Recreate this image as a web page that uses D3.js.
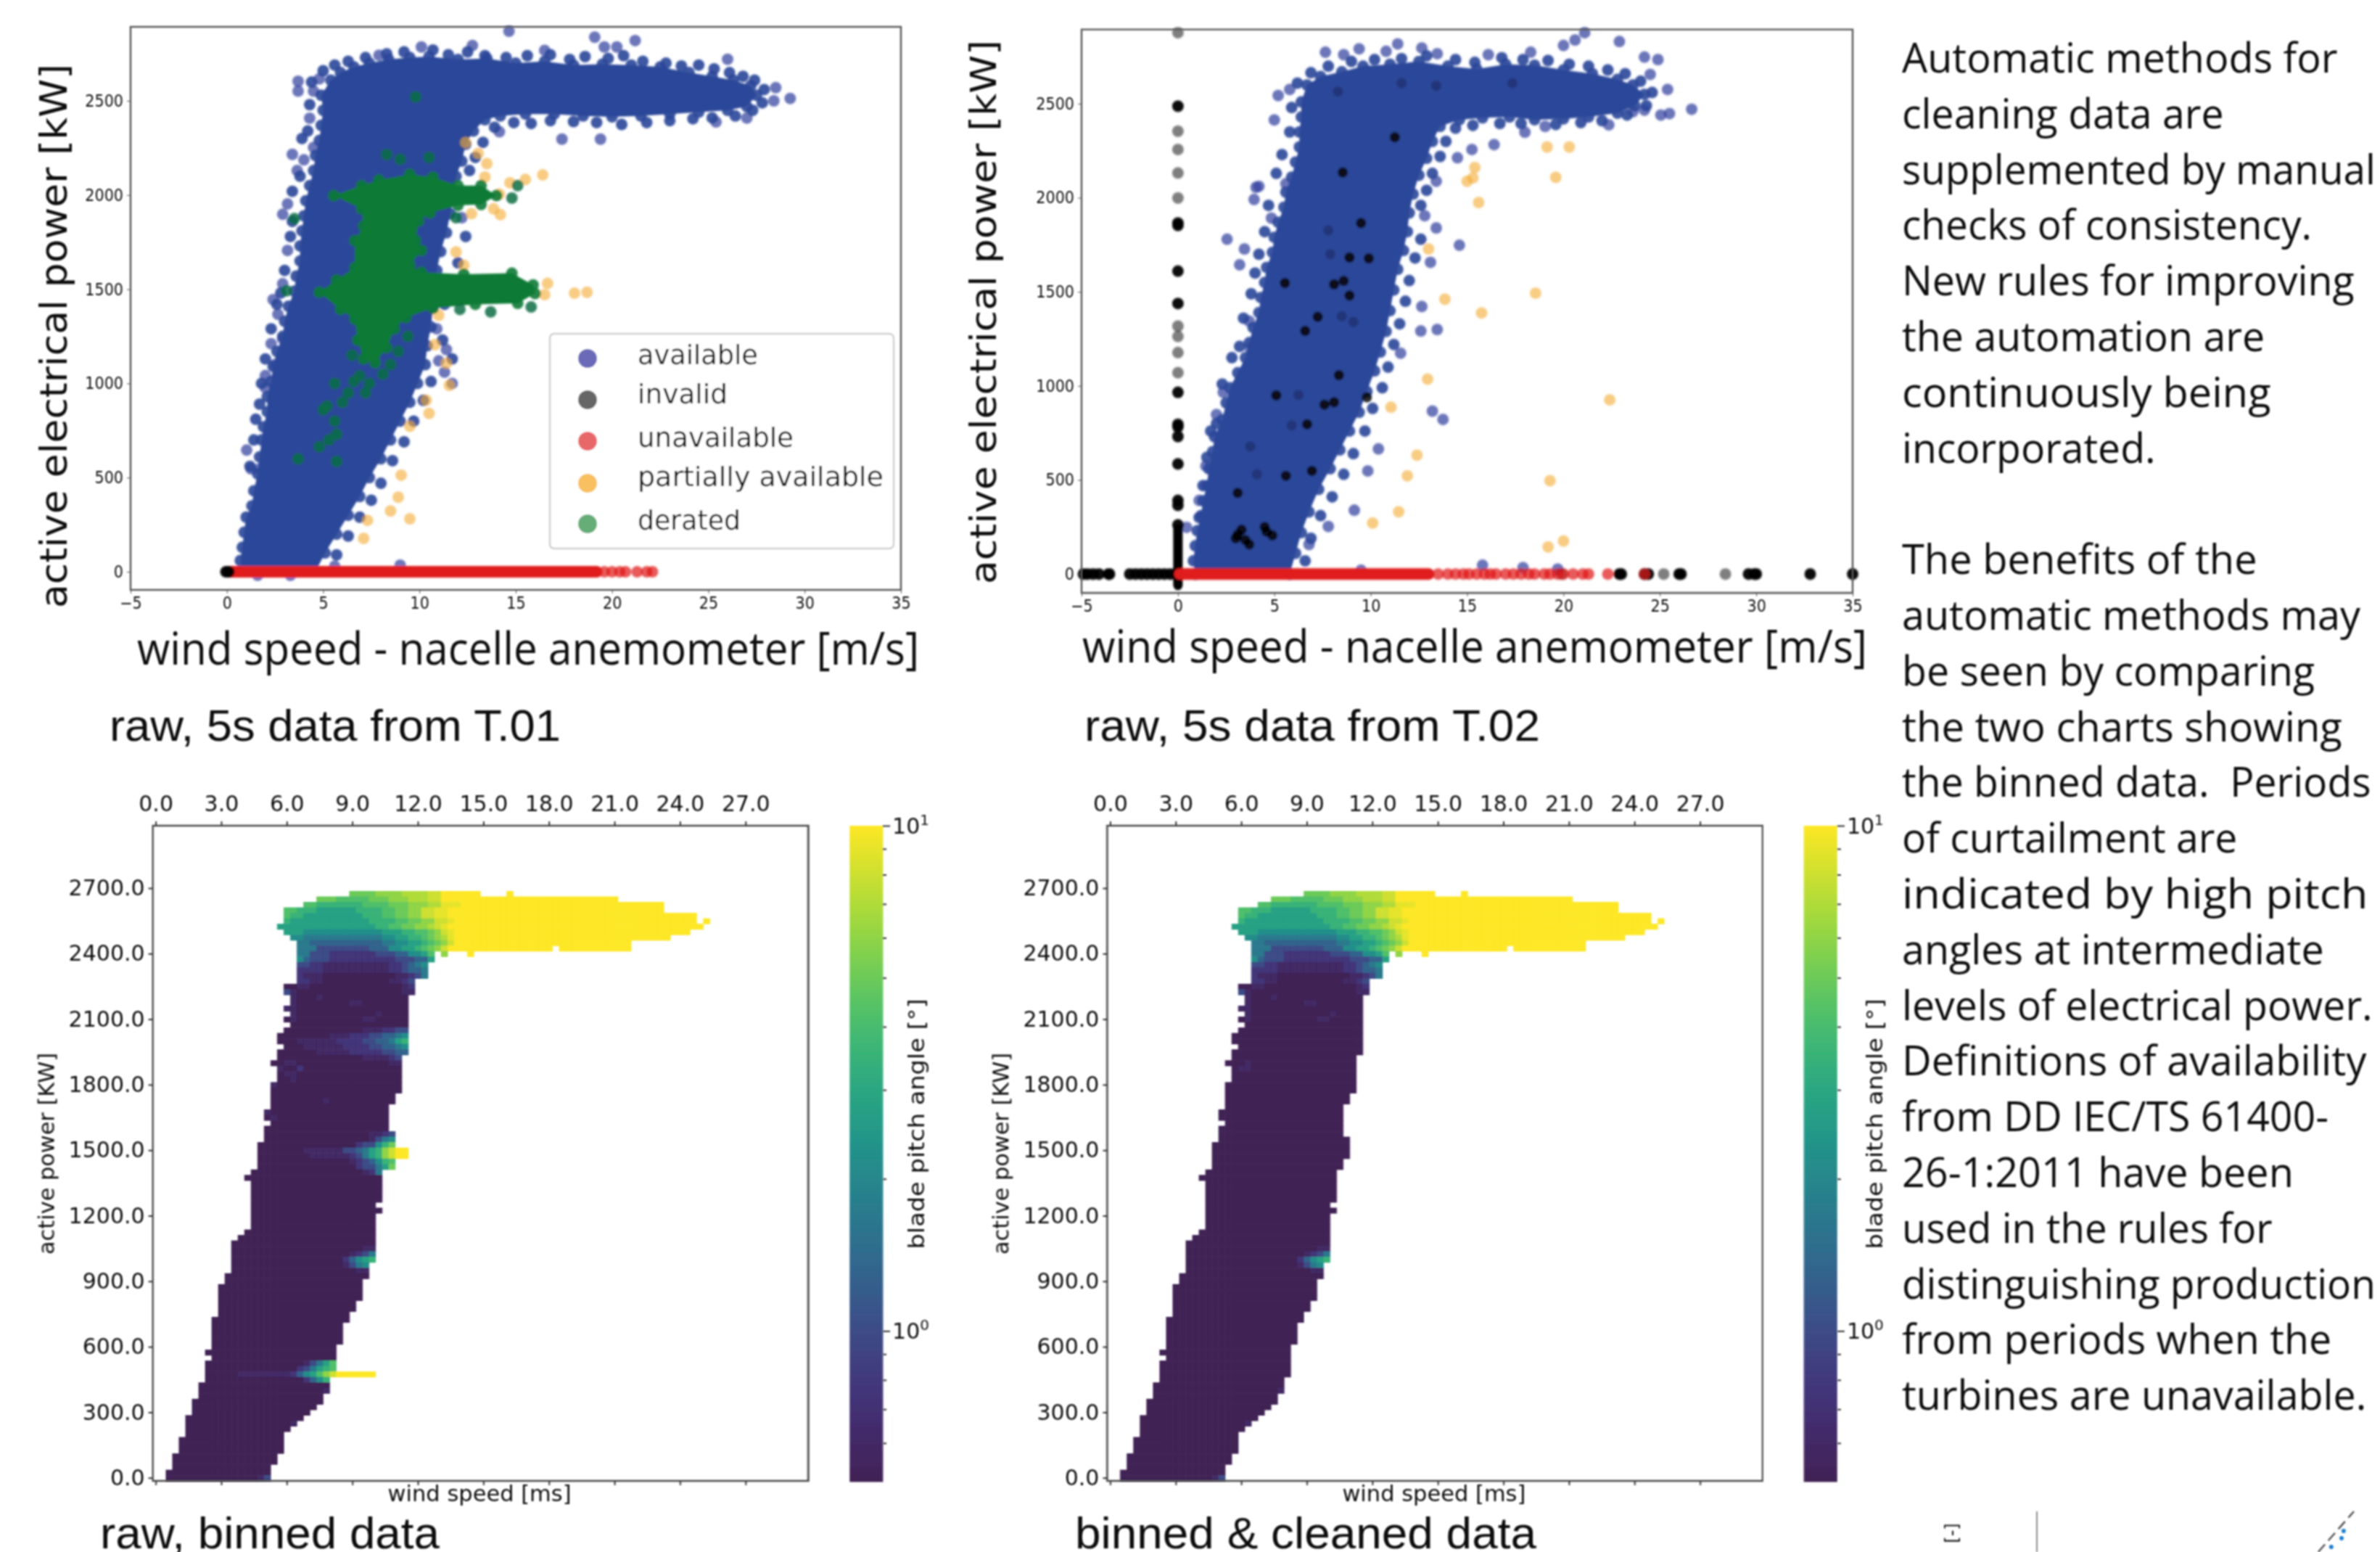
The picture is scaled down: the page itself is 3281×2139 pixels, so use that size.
<!DOCTYPE html>
<html>
<head>
<meta charset="utf-8">
<script src="https://cdn.jsdelivr.net/npm/d3@7"></script>
<style>
    html, body { margin: 0; padding: 0; background: #fff; }
    svg { display: block; }
    text { fill: #111; }
</style>
</head>
<body>
<div id="page"></div>
<script>
// ---- T.01 scatter, values as [wind, power]
const t01Available = [[0.8,0],[0.7,60],[0.8,130],[0.9,210],[1.0,290],[1.3,350],[1.4,430],[1.6,520],[1.7,610],[1.8,700],[1.9,770],[2.1,850],[2.1,930],[2.3,1010],[2.4,1090],[2.6,1170],[2.9,1250],[3.0,1330],[3.2,1410],[3.5,1490],[3.6,1570],[3.8,1650],[3.8,1730],[3.9,1810],[4.0,1890],[4.1,1970],[4.3,2050],[4.5,2130],[4.6,2210],[4.8,2290],[4.9,2370],[5.0,2450],[4.9,2530],[5.4,2610],[5.9,2650],[6.6,2680],[7.4,2700],[8.4,2720],[9.5,2730],[10.5,2735],[12,2720],[13.5,2725],[15,2700],[16.5,2710],[18,2690],[19.5,2695],[21,2690],[22.5,2680],[24,2650],[25.2,2630],[26.3,2610],[27.2,2580],[27.5,2530],[27,2470],[26,2450],[24.5,2440],[23,2430],[21.5,2420],[20,2415],[18.5,2420],[17,2430],[15.5,2430],[14.2,2420],[13.4,2400],[12.8,2340],[12.4,2270],[12.2,2180],[11.9,2100],[11.8,2000],[11.6,1900],[11.4,1800],[11.1,1700],[10.9,1600],[10.8,1500],[10.7,1400],[10.6,1300],[10.4,1200],[10.3,1100],[9.9,1000],[9.5,900],[9.0,800],[8.5,700],[8.0,600],[7.4,500],[6.9,400],[6.3,300],[5.7,200],[5.1,100],[4.6,0]];
// the dots which stand clear of the cloud
const t01AvailableStray = [[1.03,646],[1.25,547],[1.7,547],[2,977],[2,1042],[2.5,1100],[2.3,1211],[2.9,1237],[2.65,1367],[2.4,1445],[2.9,1529],[3.15,1706],[3.15,1953],[2.9,1898],[3.4,2216],[3.65,2130],[4,2187],[4.5,2253],[4.3,2408],[3.7,2552],[3.7,2604],[4.8,2617],[4.5,2552],[14.65,2870],[19.1,2838],[21.2,2820],[19.6,2786],[20.25,2786],[26,2721],[28.5,2570],[29.25,2513],[28.4,2500],[17.4,2297],[19.4,2297],[14.15,2336],[10.1,2786],[12.75,2794],[7.9,2742],[16.5,2768],[25.4,2388],[27,2409],[11.7,1000],[11.3,1060],[11.0,1120],[11.4,1180],[10.9,1290],[12.4,2000],[12.2,1880],[5.6,30],[9,35],[1.6,-18],[3.3,-18]];
// the dots packed along the rim of the cloud
const t01AvailableRim = [[1.2,560],[1.4,700],[1.5,810],[1.7,890],[1.8,1000],[2.0,1130],[2.3,1290],[2.6,1420],[2.8,1480],[3.0,1600],[3.3,1780],[3.4,1860],[3.4,2020],[3.8,2100],[3.9,2300],[4.2,2340],[4.3,2480],[4.4,2600],[5.0,2660],[5.6,2690],[6.3,2710],[7.2,2730],[8.3,2750],[9.2,2760],[10.7,2770],[11.5,2745],[12.5,2760],[13.4,2740],[14.5,2730],[15.6,2740],[16.8,2745],[17.8,2720],[18.6,2735],[19.8,2725],[20.6,2740],[21.6,2710],[22.8,2700],[23.6,2685],[24.5,2690],[25.3,2670],[26.1,2650],[26.8,2630],[27.4,2610],[27.9,2560],[27.8,2490],[27.3,2450],[26.4,2420],[25.2,2410],[24.2,2405],[23,2395],[21.8,2385],[20.5,2375],[19.2,2385],[18,2390],[16.8,2395],[15.8,2380],[14.9,2385],[13.9,2360],[13.3,2280],[12.9,2200],[12.6,2130],[12.4,1780],[12,1640],[11.6,1520],[11.3,1420],[11.2,1230],[11.7,1130],[10.6,1010],[10.2,910],[9.7,800],[9.2,690],[8.6,590],[8.0,470],[7.5,380],[6.9,290],[6.3,190],[5.7,90]];
const t01Partial = [[12.4,2279],[13.05,2221],[13.5,2167],[13.4,2096],[14.7,2065],[15.5,2083],[16.4,2107],[14.15,2005],[13.85,1927],[14.2,1896],[12.7,1901],[11.9,1698],[12.3,1628],[16.65,1531],[16.5,1471],[18.05,1479],[18.7,1484],[11,1362],[10.8,1206],[11.4,1107],[11.55,990],[10.35,911],[10.5,841],[9.5,773],[9.05,513],[8.9,396],[8.5,323],[9.5,281],[7.3,273],[7.1,177]];
const t01Derated = [[5.55,1997],[7,2050],[7.9,2080],[9.5,2110],[10.7,2095],[12,2050],[13.2,2050],[14,1997],[13.2,1950],[12,1945],[10.55,1905],[9.95,1862],[9.8,1758],[10.1,1706],[9.5,1628],[10.1,1590],[12.3,1580],[14.8,1585],[15.9,1523],[16,1477],[15.1,1425],[12.9,1420],[10.7,1400],[9.3,1350],[8.7,1290],[8.3,1190],[7.7,1110],[7.1,1130],[6.8,1230],[6.65,1341],[5.9,1393],[4.8,1484],[5.7,1549],[6.65,1615],[6.65,1758],[7.1,1836],[7,1927]];
const t01DeratedStray = [[15.1,2050],[14.8,1984],[11.9,1880],[9.8,2521],[15.8,1406],[13.7,1380],[12.1,1393],[3.5,1875],[3.1,1492],[8.3,2215],[10.5,2200],[9,2190],[5.7,586],[4.8,664],[3.7,599],[9.4,1250],[8.9,1170],[8.1,1050],[7.4,1000],[6.9,1040],[6.3,950],[6.0,900],[5.6,1000],[5.2,880],[5,860],[5.6,800],[5.7,730],[5.3,700],[6.6,1010],[7.2,950],[6.5,1150],[8.5,1100]];
const t01UnavailableRun = [0.2, 19.2];
const t01UnavailableWind = [19.6,20,20.4,20.7,21.3,21.8,22.1];
const t01InvalidWind = [-0.05, 0.1];

// ---- T.02 scatter
const t02Available = [[0.9,0],[0.8,70],[0.9,150],[1.0,230],[1.2,310],[1.3,390],[1.5,470],[1.6,560],[1.8,650],[1.9,730],[2.3,820],[2.5,910],[2.7,990],[3.1,1070],[3.5,1150],[3.7,1230],[3.9,1310],[4.2,1390],[4.3,1470],[4.5,1550],[4.6,1630],[4.9,1710],[5.0,1790],[5.2,1870],[5.5,1950],[5.6,2030],[5.9,2110],[6.1,2190],[6.3,2270],[6.3,2350],[6.4,2430],[6.4,2510],[6.7,2600],[7.4,2645],[8.5,2670],[9.6,2700],[11,2710],[12.5,2725],[14,2700],[15.5,2685],[17,2710],[18.5,2705],[20,2680],[21.5,2660],[22.8,2630],[23.6,2600],[24.2,2550],[23.7,2490],[22.8,2450],[21.3,2430],[20,2420],[18.5,2415],[17.2,2430],[15.8,2425],[14.6,2415],[13.6,2380],[13.2,2300],[12.9,2210],[12.5,2120],[12.2,2020],[12.0,1920],[11.9,1820],[11.7,1720],[11.4,1620],[11.2,1510],[11.0,1400],[10.8,1290],[10.5,1180],[10.2,1080],[9.8,970],[9.4,860],[8.9,760],[8.4,660],[7.9,560],[7.3,450],[6.8,330],[6.4,220],[6.1,110],[5.8,0]];
const t02AvailableStray = [[0.45,248],[2.55,1780],[3.2,1644],[3.45,1728],[3.95,1991],[4.05,2056],[5,2414],[5.2,2544],[5.8,2576],[7.65,2774],[9.4,2792],[8.6,2761],[10.8,2779],[11.4,2818],[12.65,2797],[13.45,2766],[16.1,2761],[18.3,2774],[21.1,2878],[20.6,2839],[20,2810],[22.9,2831],[24.9,2735],[24.2,2748],[24.5,2656],[25.4,2576],[26.65,2471],[25.5,2448],[25.05,2440],[22.35,2388],[24.2,2466],[23.6,2458],[19.05,2380],[18,2349],[16.4,2283],[15.25,2257],[14.5,2213],[13.4,2088],[13.4,1840],[14.6,1748],[12.8,1905],[13.1,1657],[12.65,1422],[12.6,1292],[13.45,1300],[11.55,1174],[13.2,866],[13.75,822],[10.4,665],[9.85,548],[9.15,339],[7.8,253],[6.8,157],[15.8,47],[17.9,34],[9.5,20],[19.7,26],[2,848],[2.35,966],[1.45,574],[1.1,391],[3.7,1344],[3.75,1200],[4.2,2061],[4.85,1892],[5.6,2075],[4.85,1592]];
const t02AvailableRim = [[1.2,120],[1.1,300],[1.3,470],[1.5,620],[1.7,760],[2.0,800],[2.3,1010],[2.8,1150],[3.2,1210],[3.4,1360],[3.8,1490],[4.0,1600],[4.2,1700],[4.5,1820],[4.7,1960],[5.1,2130],[5.4,2230],[5.8,2350],[5.9,2480],[6.2,2610],[6.9,2665],[7.8,2700],[9,2725],[10.2,2735],[11.6,2740],[12.9,2755],[14.4,2735],[15.4,2720],[16.8,2745],[17.9,2735],[19.2,2730],[20.3,2710],[21.3,2700],[22.3,2680],[23.2,2660],[24,2620],[24.6,2560],[24.3,2490],[23.3,2440],[22,2410],[20.9,2400],[19.6,2390],[17.8,2395],[16.7,2395],[15.3,2385],[14.4,2370],[13.9,2300],[13.6,2220],[13.2,2130],[12.9,2040],[12.6,1960],[12.6,1780],[12.3,1680],[12,1560],[11.8,1450],[11.5,1330],[11.2,1220],[10.9,1100],[10.6,990],[10.1,880],[9.7,760],[9.1,640],[8.6,530],[8,410],[7.4,310],[6.9,190],[6.6,70]];
const t02Partial = [[19.15,2270],[20.3,2270],[15.4,2161],[19.6,2109],[15,2088],[15.3,2106],[15.6,1975],[13,1728],[18.55,1493],[13.85,1461],[15.75,1388],[12.95,1036],[22.4,926],[11.05,887],[12.4,632],[11.9,522],[19.3,496],[11.45,331],[10.1,271],[20,175],[19.2,144]];
const t02InvalidInside = [[11.25,2322],[8.55,2135],[9.5,1866],[8.9,1683],[9.9,1678],[5.55,1547],[8.1,1540],[8.6,1558],[8.9,1480],[7.25,1367],[6.6,1292],[8.35,1057],[8.1,913],[7.6,900],[5.1,950],[9.8,939],[6.7,796],[5.6,522],[6.95,548],[3.1,431],[3.1,209],[3.3,235],[3.5,180],[3,190],[3.7,157],[4.6,225],[4.9,205],[4.5,250]];
const t02InvalidFaint = [[8.3,2565],[11.6,2610],[13.4,2596],[17.35,2610],[7.8,1827],[6.25,952],[3.75,678],[8.5,1370],[7.9,1700],[9.1,1340],[5.9,790],[4.1,530]];
const t02InvalidAxisPower = [2487,1866,1853,1610,1438,966,796,783,731,585,391,365,261];
const t02InvalidAxisGrey = [2878,2354,2257,2132,1999,1318,1263,1177,1070];
const t02InvalidAxisRun = [-60, 240];
const t02InvalidZeroWind = [-4.9,-4.7,-4.4,-4.1,-3.6,-3.55,-2.5,-2.2,-1.9,-1.6,-1.3,-1,-0.7,-0.4,-0.1,22.9,23,24.2,24.4,26,26.1,29.6,29.9,30,32.8,35];
const t02InvalidZeroGrey = [19.9,25.2,28.4];
const t02UnavailableRun = [0.1, 13];
const t02UnavailableWind = [13.5,14,14.4,14.8,15.1,15.5,15.9,16.2,16.5,17,17.4,17.8,18.2,18.5,19,19.3,19.7,20,20.5,21,21.3,22.3,24.2];

// ---- legend
const legendLabels = ["available", "invalid", "unavailable", "partially available", "derated"];
const legendColors = ["#6a6ab8", "#666666", "#e8686a", "#f8c060", "#66ad78"];

// ---- axis ticks
const windTicks = [-5, 0, 5, 10, 15, 20, 25, 30, 35];
const powerTicks = [0, 500, 1000, 1500, 2000, 2500];
const binnedWindTicks = [0, 10, 20, 30, 40, 50, 60, 70, 80, 90];
const binnedWindLabels = ["0.0","3.0","6.0","9.0","12.0","15.0","18.0","21.0","24.0","27.0"];
const binnedPowerTicks = [0, 12, 24, 36, 48, 60, 72, 84, 96, 108];
const binnedPowerLabels = ["0.0","300.0","600.0","900.0","1200.0","1500.0","1800.0","2100.0","2400.0","2700.0"];
const pitchMajorTicks = [1, 10];
const pitchMinorTicks = [0.6, 0.7, 0.8, 0.9, 2, 3, 4, 5, 6, 7, 8, 9];

// ---- binned pitch, one string per power row (25 kW) going down from 2675 kW.
// each run is count + letter, one count = one 0.3 m/s column, "." = empty bin
const pitchLevels = {a:0.5,b:0.6,c:0.75,d:1,e:1.3,f:1.7,g:2.2,h:2.8,i:3.5,j:4.2,k:5,l:6,m:7,n:8,o:9,p:10};
const topPitchRows = ["30.4k4l4m2n6p4.1p","25.3k5j3k3l3m2n27p","23.2j7i4j3k3l2m3o31p","20.2j3i6h4i2j2k2l2n2o33p","20.1j2i9h3i2j2k2l2n2o38p","20.1i12h4i2j2k2l2n1o37p1.1p","19.15h2i2j2k2l1m1n1o39p","20.3h12g3h2i2j1k1l1n1o36p","21.2g12f2g2h2i1j1k1l1m1o33p","22.2f11e2f2g2h1i1j1k1l1n27p","22.3f8d3e2g2h1i1j1k1l1n16p1.11p","22.2f3d7c3d2e2g1h1j1.1l3.1p","22.1g1e3d10c3d2e1h","22.2d2c10b2c1d1e1f1g","22.4c10b2c1d2e1f","22.1c3b11a2b1c1d1f","22.2c2b10a2b1c1d","20.2a2b14a1b1c","20.1d1b16a2b","21.1b3a1b13a","21.1b8a2b7a","20.2b17a","21.1b12a1b4a","20.1a1b10a2b5a","21.18a"];
const rawMiddleRows = ["20.12a3b2c2d","19.8a3b3c2d2e1f1g","19.3a6b4c2d2e1f1h1i","20.3a6b4c2d2e1f1g","19.6a5b5c2d2e","19.13a4b1c1d","18.2a2b14a2b","19.1b2a1c15a","19.1a2b16a","19.2a1b16a","18.1b19a","18.20a","18.19a","18.8a1b10a","18.18a","17.1b18a","17.1a1b17a","18.18a","17.19a","17.16a2b1c1d","17.16a1b1d1f1g","16.15a1c2d1g1i1k","16.7a6b2d1e1f1h1i1l1n2p","16.8a6b1c1d1f1h1i1l1n2p","16.14a1b1c1d1e1g1i1j","16.15a1c2d1f1h1k","15.17a1b1c1f"];
const cleanedMiddleRows = ["20.19a","19.20a","19.20a","20.19a","19.20a","19.19a","18.3a1b16a","19.1a2b16a","19.19a","19.19a","18.20a","18.20a","18.19a","18.19a","18.18a","17.19a","17.19a","18.18a","17.19a","17.19a","17.20a","16.21a","16.21a","16.21a","16.20a","16.20a","15.20a"];
const lowerPitchRows = ["14.21a","15.20a","15.20a","15.20a","15.20a","15.19a","15.20a","15.19a","15.19a","15.19a","14.20a","13.21a","12.22a","12.20a2b","12.18a1b1c1d1f","12.17a1c1e1g1h1i","12.17a1b1d1f1g","12.19a2b","11.22a","11.21a","10.22a","10.22a","10.22a","10.21a","10.21a","10.20a","9.21a","9.20a","9.20a","9.20a","9.20a","9.19a","8.20a","9.19a"];
const rawKneeRows = ["8.15a1b1d1f1h1j","8.14a1c1d1f1h1i1j","8.5a8b1c1e1g1h1j1l1n6p","8.15a1c1e1g1i"];
const cleanedKneeRows = ["8.20a","8.20a","8.20a","8.19a"];
const basePitchRows = ["7.20a","7.19a1b","7.19a","6.20a","6.19a","6.18a","5.18a","5.16a1b","5.16a","5.15a","4.16a","4.16a","4.16a","3.16a","3.16a","3.15a","2.16a","2.14a1b1d"];
const rawPitchRows = [...topPitchRows, ...rawMiddleRows, ...lowerPitchRows, ...rawKneeRows, ...basePitchRows];
const cleanedPitchRows = [...topPitchRows, ...cleanedMiddleRows, ...lowerPitchRows, ...cleanedKneeRows, ...basePitchRows];

// ---- note on the right
const noteLines = ["Automatic methods for","cleaning data are","supplemented by manual","checks of consistency.","New rules for improving","the automation are","continuously being","incorporated.","","The benefits of the","automatic methods may","be seen by comparing","the two charts showing","the binned data.  Periods","of curtailment are","indicated by high pitch","angles at intermediate","levels of electrical power.","Definitions of availability","from DD IEC/TS 61400-","26-1:2011 have been","used in the rules for","distinguishing production","from periods when the","turbines are unavailable."];
const noteLineEnds = [1540,1465,1565,1523,1551,1492,1496,1420,0,1487,1555,1525,1543,1562,1474,1560,1531,1563,1559,1534,1511,1497,1565,1536,1559];

// ---- the chart that is cut off by the bottom edge
const cropDashX = [0.82, 0.924];
const cropDashY = [0, 1];
const cropPointX = [0.894, 0.888, 0.858];
const cropPointY = [0.52, 0.34, 0.125];

const viridisStops = ["#412255","#46327e","#365c8d","#277f8e","#1fa187","#4ac16d","#a0da39","#fde725"];

// helper for text which has to fit a measured length
function addText(g, str, x, y, size, family, len, rotate) {
    let t = g.append("text")
        .attr("font-family", family)
        .attr("font-size", size)
        .text(str);
    if (rotate) {
        t.attr("transform", `translate(${x},${y}) rotate(-90)`).attr("text-anchor", "middle");
    } else {
        t.attr("x", x).attr("y", y);
    }
    if (len) {
        t.attr("textLength", len).attr("lengthAdjust", "spacingAndGlyphs");
    }
    return t;
}


class scatterVis {

    constructor(parentElement, opts, data){
        this.parentElement = parentElement
        this.opts = opts
        this.data = data

        this.initVis()
    }

    initVis(){
        let vis = this;

        vis.margin = {top: vis.opts.top, left: vis.opts.left};
        vis.width = vis.opts.width;
        vis.height = vis.opts.height;
        vis.radius = 8;

        vis.g = vis.parentElement.append("g")
            .attr("transform", `translate(${vis.margin.left}, ${vis.margin.top})`);

        // setting up scales and axes
        vis.xScale = d3.scaleLinear().domain([-5, 35]).range([0, vis.width]);
        vis.yScale = d3.scaleLinear().domain(vis.opts.powerDomain).range([vis.height, 0]);

        vis.xAxis = d3.axisBottom(vis.xScale).tickValues(windTicks).tickFormat(d3.format("d")).tickSize(5).tickPadding(5);
        vis.yAxis = d3.axisLeft(vis.yScale).tickValues(powerTicks).tickFormat(d3.format("d")).tickSize(5).tickPadding(5);

        vis.marks = vis.g.append("g").attr("filter", "url(#softMarks)");
        vis.axes = vis.g.append("g").attr("filter", "url(#softText)");

        vis.axes.append("rect")
            .attr("width", vis.width)
            .attr("height", vis.height)
            .attr("fill", "none")
            .attr("stroke", "#5c5c5c")
            .attr("stroke-width", 2.5);

        vis.axes.append("g")
            .attr("class", "axis x-axis")
            .attr("transform", `translate(0,${vis.height})`)
            .call(vis.xAxis);

        vis.axes.append("g")
            .attr("class", "axis y-axis")
            .call(vis.yAxis);

        vis.axes.selectAll(".axis text")
            .attr("font-family", "'Liberation Sans Narrow','DejaVu Sans Condensed','DejaVu Sans'")
            .attr("font-size", 23)
            .attr("fill", "#333");
        vis.axes.selectAll(".axis path").remove();
        vis.axes.selectAll(".axis line").attr("stroke", "#555");

        vis.updateVis()
    }

    // outline of a dense cloud, filled, with a dot on each corner so that the rim stays lumpy
    drawCloud(outline, color){
        let vis = this
        let line = d3.line().x(d => vis.xScale(d[0])).y(d => vis.yScale(d[1]));
        vis.marks.append("path")
            .attr("d", line(outline) + "Z")
            .attr("fill", color);
        vis.drawPoints(outline, color, 0.9);
    }

    drawPoints(points, color, opacity, radius){
        let vis = this
        vis.marks.append("g").selectAll("circle")
            .data(points)
            .join("circle")
            .attr("cx", d => vis.xScale(d[0]))
            .attr("cy", d => vis.yScale(d[1]))
            .attr("r", radius || vis.radius)
            .attr("fill", color)
            .attr("opacity", opacity);
    }

    drawRun(points, color, width){
        let vis = this
        vis.marks.append("path")
            .attr("d", d3.line().x(d => vis.xScale(d[0])).y(d => vis.yScale(d[1]))(points))
            .attr("stroke", color)
            .attr("stroke-width", width)
            .attr("stroke-linecap", "round")
            .attr("fill", "none");
    }

    updateVis(){
        let vis = this
        let d = vis.data

        vis.drawPoints(d.availableStray, "#33419f", 0.72);
        vis.drawPoints(d.availableRim, "#2a4699", 0.9);
        vis.drawCloud(d.available, "#2a4699");
        if (d.partial) vis.drawPoints(d.partial, "#f3ad37", 0.62);
        if (d.invalidFaint) vis.drawPoints(d.invalidFaint, "#1a1a40", 0.35, 7);
        if (d.invalidInside) vis.drawPoints(d.invalidInside, "#000", 0.82, 7);
        if (d.invalidAxis) vis.drawPoints(d.invalidAxis, "#000", 0.95);
        if (d.invalidGrey) vis.drawPoints(d.invalidGrey, "#000", 0.5);
        if (d.invalidRun) vis.drawRun(d.invalidRun, "#000", 13);
        if (d.derated) {
            vis.drawCloud(d.derated, "#0e7a36");
            vis.drawPoints(d.deratedStray, "#0d6e44", 0.85);
        }
        vis.drawRun(d.unavailableRun, "#e01b1b", 16);
        vis.drawPoints(d.unavailable, "#e01b1b", 0.72);
        if (d.invalidTop) vis.drawPoints(d.invalidTop, "#000", 0.95);
    }
}


class heatmapVis {

    constructor(parentElement, opts, rows){
        this.parentElement = parentElement
        this.opts = opts
        this.rows = rows

        this.initVis()
    }

    initVis(){
        let vis = this;

        vis.margin = {top: 1138, left: vis.opts.left};
        vis.width = 903.5;
        vis.height = 903;
        vis.barLeft = 960.5;
        vis.barWidth = 46;

        vis.g = vis.parentElement.append("g")
            .attr("transform", `translate(${vis.margin.left}, ${vis.margin.top})`);

        // heatmap bins, the ticks sit on the centre of a bin
        vis.xScale = d3.scaleBand().domain(d3.range(100)).range([0, vis.width]);
        vis.yScale = d3.scaleBand().domain(d3.range(120)).range([vis.height, 0]);
        vis.color = d3.scaleSequentialLog(d3.interpolateRgbBasis(viridisStops)).domain([0.505, 10]);
        vis.pitchScale = d3.scaleLog().domain([0.505, 10]).range([vis.height, 0]);

        vis.xAxisTop = d3.axisTop(vis.xScale).tickValues(binnedWindTicks)
            .tickFormat((d, i) => binnedWindLabels[i]).tickSize(6).tickPadding(14);
        vis.xAxisBottom = d3.axisBottom(vis.xScale).tickValues(binnedWindTicks)
            .tickFormat("").tickSize(6);
        vis.yAxis = d3.axisLeft(vis.yScale).tickValues(binnedPowerTicks)
            .tickFormat((d, i) => binnedPowerLabels[i]).tickSize(6).tickPadding(5);

        vis.marks = vis.g.append("g").attr("filter", "url(#softCells)");
        vis.axes = vis.g.append("g").attr("filter", "url(#softText)");

        vis.wrangleData()
    }

    wrangleData(){
        let vis = this

        // unpack the run strings into single cells
        vis.displayData = []
        vis.rows.forEach((row, r) => {
            let col = 0
            for (const m of row.matchAll(/(\d+)([.a-p])/g)) {
                for (let n = 0; n < +m[1]; n++) {
                    if (m[2] !== ".") {
                        vis.displayData.push({col: col, row: 107 - r, pitch: pitchLevels[m[2]]})
                    }
                    col++
                }
            }
        })

        vis.updateVis()
    }

    updateVis(){
        let vis = this

        vis.marks.selectAll("rect.cell")
            .data(vis.displayData)
            .join("rect")
            .attr("class", "cell")
            .attr("x", d => vis.xScale(d.col) - 0.3)
            .attr("y", d => vis.yScale(d.row) - 0.3)
            .attr("width", vis.xScale.bandwidth() + 0.6)
            .attr("height", vis.yScale.bandwidth() + 0.6)
            .attr("fill", d => vis.color(d.pitch));

        vis.axes.append("rect")
            .attr("width", vis.width)
            .attr("height", vis.height)
            .attr("fill", "none")
            .attr("stroke", "#4a4a4a")
            .attr("stroke-width", 2.5);

        vis.axes.append("g").attr("class", "axis").call(vis.xAxisTop);
        vis.axes.append("g").attr("class", "axis")
            .attr("transform", `translate(0,${vis.height})`)
            .call(vis.xAxisBottom);
        vis.axes.append("g").attr("class", "axis").call(vis.yAxis);

        // colour bar
        let bar = vis.marks.append("g").attr("transform", `translate(${vis.barLeft},0)`);
        let steps = d3.range(0, vis.height, 4);
        bar.selectAll("rect")
            .data(steps)
            .join("rect")
            .attr("y", d => d)
            .attr("width", vis.barWidth)
            .attr("height", 4.5)
            .attr("fill", d => vis.color(vis.pitchScale.invert(d + 2)));

        let barAxes = vis.axes.append("g").attr("transform", `translate(${vis.barLeft + vis.barWidth},0)`);
        barAxes.append("g").attr("class", "axis")
            .call(d3.axisRight(vis.pitchScale).tickValues(pitchMajorTicks).tickFormat("").tickSize(10));
        barAxes.append("g").attr("class", "axis")
            .call(d3.axisRight(vis.pitchScale).tickValues(pitchMinorTicks).tickFormat("").tickSize(5));

        vis.axes.selectAll(".axis path").remove();
        vis.axes.selectAll(".axis line").attr("stroke", "#333").attr("stroke-width", 2);
        vis.axes.selectAll(".axis text")
            .attr("font-family", "'DejaVu Sans'")
            .attr("font-size", 30)
            .attr("fill", "#222");

        pitchMajorTicks.forEach(p => {
            let t = barAxes.append("text")
                .attr("x", 13)
                .attr("y", vis.pitchScale(p) + 11)
                .attr("font-family", "'DejaVu Sans'")
                .attr("font-size", 30)
                .attr("fill", "#222")
                .text("10");
            t.append("tspan")
                .attr("dy", -12)
                .attr("font-size", 20)
                .text(p === 10 ? "1" : "0");
        });

        addText(vis.axes, "wind speed [ms]", 324, 931, 30, "'DejaVu Sans'", 253).attr("fill", "#222");
        addText(vis.axes, "active power [KW]", -136, 452, 30, "'DejaVu Sans'", 278, true).attr("fill", "#222");
        addText(vis.axes, "blade pitch angle [°]", vis.opts.pitchLabelX, 411, 30, "'DejaVu Sans'", 345, true).attr("fill", "#222");
    }
}


// the page
let svg = d3.select("#page").append("svg")
    .attr("width", 3281)
    .attr("height", 2139)
    .attr("viewBox", "0 0 3281 2139");

// the source is an upscaled screenshot, so everything is slightly soft
let defs = svg.append("defs");
[["softMarks", 1.8], ["softCells", 0.9], ["softText", 0.9]].forEach(f => {
    defs.append("filter")
        .attr("id", f[0])
        .attr("filterUnits", "userSpaceOnUse")
        .attr("x", -200).attr("y", -1300).attr("width", 3800).attr("height", 3600)
        .append("feGaussianBlur")
        .attr("stdDeviation", f[1]);
});

let withPower = (winds, power) => winds.map(w => [w, power]);

new scatterVis(svg, {left: 180, top: 37, width: 1062, height: 776, powerDomain: [-96, 2893]}, {
    available: t01Available,
    availableStray: t01AvailableStray,
    availableRim: t01AvailableRim,
    partial: t01Partial,
    derated: t01Derated,
    deratedStray: t01DeratedStray,
    unavailableRun: withPower(t01UnavailableRun, 0),
    unavailable: withPower(t01UnavailableWind, 0),
    invalidTop: withPower(t01InvalidWind, 0)
});

new scatterVis(svg, {left: 1491, top: 40.6, width: 1063, height: 776.4, powerDomain: [-100, 2895]}, {
    available: t02Available,
    availableStray: t02AvailableStray,
    availableRim: t02AvailableRim,
    partial: t02Partial,
    invalidFaint: t02InvalidFaint,
    invalidInside: t02InvalidInside,
    invalidAxis: [...t02InvalidAxisPower.map(p => [0, p]), ...withPower(t02InvalidZeroWind, 0)],
    invalidGrey: [...t02InvalidAxisGrey.map(p => [0, p]), ...withPower(t02InvalidZeroGrey, 0)],
    invalidRun: t02InvalidAxisRun.map(p => [0, p]),
    unavailableRun: withPower(t02UnavailableRun, 0),
    unavailable: withPower(t02UnavailableWind, 0)
});

new heatmapVis(svg, {left: 210.6, pitchLabelX: 1063}, rawPitchRows);
new heatmapVis(svg, {left: 1526.4, pitchLabelX: 1069}, cleanedPitchRows);

// legend of the first scatter
let legend = svg.append("g").attr("filter", "url(#softText)");
legend.append("rect")
    .attr("x", 758).attr("y", 460)
    .attr("width", 474).attr("height", 296).attr("rx", 6)
    .attr("fill", "#fff").attr("stroke", "#d0d0d0").attr("stroke-width", 2.5);
let legendMarkerY = [494, 551, 608, 666, 722];
let legendTextY = [502, 556, 616, 670, 730];
let legendTextLen = [166, 124, 215, 339, 142];
legendLabels.forEach((label, i) => {
    legend.append("circle")
        .attr("cx", 810).attr("cy", legendMarkerY[i]).attr("r", 13)
        .attr("fill", legendColors[i]);
    addText(legend, label, 879, legendTextY[i], 38, "'DejaVu Sans'", legendTextLen[i]).attr("fill", "#222");
});

// headings and captions
let labels = svg.append("g").attr("filter", "url(#softText)");
addText(labels, "active electrical power [kW]", 92, 463, 52, "'DejaVu Sans'", 750, true);
addText(labels, "wind speed - nacelle anemometer [m/s]", 189, 916, 62, "'Open Sans'", 1078);
addText(labels, "raw, 5s data from T.01", 151, 1021, 62, "'Liberation Sans'", 622);
addText(labels, "active electrical power [kW]", 1373, 430, 50, "'DejaVu Sans'", 750, true);
addText(labels, "wind speed - nacelle anemometer [m/s]", 1492, 913, 62, "'Open Sans'", 1082);
addText(labels, "raw, 5s data from T.02", 1495, 1021, 62, "'Liberation Sans'", 628);
addText(labels, "raw, binned data", 138, 2134, 62, "'Liberation Sans'", 468);
addText(labels, "binned & cleaned data", 1482, 2134, 62, "'Liberation Sans'", 636);

// note text
let note = svg.append("g").attr("filter", "url(#softText)");
noteLines.forEach((line, i) => {
    if (line) {
        addText(note, line, 2622, 100 + i * 76.8, 56, "'Open Sans'", (noteLineEnds[i] - 1253) * 2.0925)
            .attr("xml:space", "preserve");
    }
});

// the start of the next chart, cut off by the page edge
let cropX = d3.scaleLinear().domain([0, 1]).range([2808, 3281]);
let cropY = d3.scaleLinear().domain([0, 1]).range([2139, 2083]);
let crop = svg.append("g").attr("filter", "url(#softText)");
crop.append("line")
    .attr("x1", cropX(0)).attr("x2", cropX(0))
    .attr("y1", cropY(0)).attr("y2", cropY(1))
    .attr("stroke", "#8a8a8a").attr("stroke-width", 2);
crop.append("line")
    .attr("x1", cropX(cropDashX[0])).attr("x2", cropX(cropDashX[1]))
    .attr("y1", cropY(cropDashY[0])).attr("y2", cropY(cropDashY[1]))
    .attr("stroke", "#555").attr("stroke-width", 2.5).attr("stroke-dasharray", "14 7");
crop.selectAll("circle")
    .data(cropPointX)
    .join("circle")
    .attr("cx", d => cropX(d))
    .attr("cy", (d, i) => cropY(cropPointY[i]))
    .attr("r", 3)
    .attr("fill", "#1f7fd0");
addText(crop, "[-]", 2699, 2113, 24, "'DejaVu Sans'", null, true).attr("fill", "#444");
</script>
</body>
</html>
